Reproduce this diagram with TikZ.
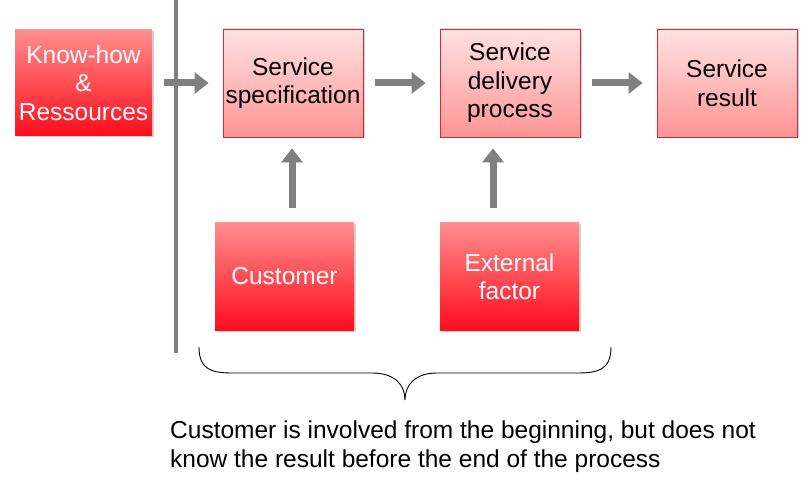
\documentclass[tikz,border=0pt]{standalone}
\usepackage{fontspec}
\setmainfont{Liberation Sans}
\usepackage{tikz}
\usetikzlibrary{arrows.meta,shadows}

\definecolor{arrowgray}{RGB}{128,128,128}
\definecolor{paletop}{RGB}{255,226,226}
\definecolor{palebottom}{RGB}{255,148,150}
\definecolor{redtop}{RGB}{255,142,142}
\definecolor{redbottom}{RGB}{255,12,28}
\definecolor{boxrim}{RGB}{214,40,52}

\begin{document}
\begin{tikzpicture}[x=1pt,y=-1pt,
    every node/.style={font=\fontsize{24.5}{28.5}\selectfont, align=center},
    palebox/.style={draw=boxrim, line width=0.8pt, top color=paletop, bottom color=palebottom,
      minimum width=140pt, minimum height=108pt, inner sep=0pt,
      drop shadow={shadow xshift=1.5pt, shadow yshift=-1.5pt, opacity=0.35}},
    redbox/.style={top color=redtop, bottom color=redbottom, text=white,
      minimum width=139pt, minimum height=107pt, inner sep=0pt,
      drop shadow={shadow xshift=1.5pt, shadow yshift=-1.5pt, opacity=0.35}},
    flow/.style={line width=7pt, arrowgray, -{Triangle[length=14pt,width=21pt]},
      shorten <=12pt, shorten >=14pt}]
      \useasboundingbox (0,0) rectangle (811,481);
      % boxes
      \node[redbox, minimum width=137pt, minimum height=106pt] (know) at (83.5,83) {Know-how\\\&\\Ressources};
      \node[palebox] (spec) at (293,83) {Service\\specification};
      \node[palebox] (deliv) at (510,83) {Service\\delivery\\process};
      \node[palebox] (res) at (727,83) {Service\\result};
      \node[redbox] (cust) at (284.5,276.5) {Customer};
      \node[redbox] (ext) at (509.5,276.5) {External\\factor};
      % separator
      \draw[arrowgray, line width=3.5pt] (176,0) -- (176,353);
      % flow
      \foreach \a/\b in {know/spec,spec/deliv,deliv/res}
        \draw[flow] (\a) -- (\b);
      \draw[flow, shorten <=15pt, shorten >=11pt] ([xshift=7.5pt]cust.north) -- ([xshift=-1pt]spec.south);
      \draw[flow, shorten <=15pt, shorten >=11pt] ([xshift=-16.5pt]ext.north) -- ([xshift=-17pt]deliv.south);
      % brace
      \draw[line width=0.9pt] (199,347) .. controls (199,370) and (212,373) .. (233,373) -- (372,373)
        .. controls (395,373) and (405,385) .. (405,400)
        .. controls (405,385) and (415,373) .. (437,373) -- (577,373)
        .. controls (598,373) and (611,370) .. (611,347);
      \node[anchor=west, align=left, inner sep=0pt, font=\fontsize{24.5}{29}\selectfont] (note) at (170,446.5)
        {Customer is involved from the beginning, but does not\\know the result before the end of the process};
\end{tikzpicture}
\end{document}
